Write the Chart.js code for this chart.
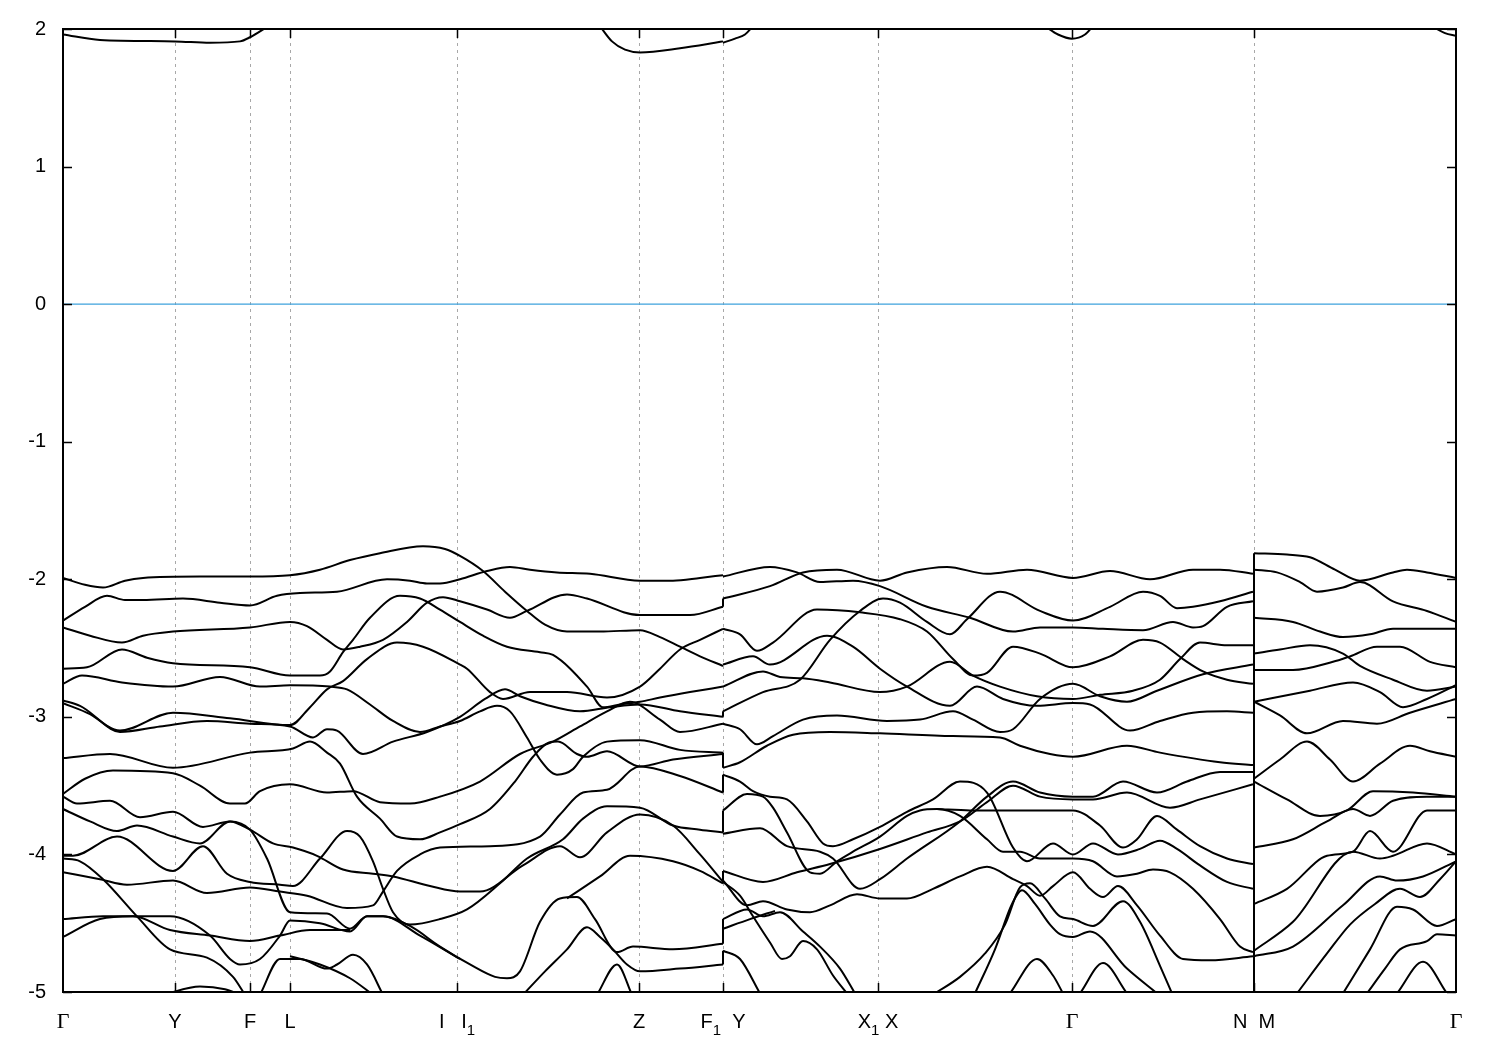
<!DOCTYPE html>
<html><head><meta charset="utf-8">
<script src="https://cdn.jsdelivr.net/npm/chart.js@4/dist/chart.umd.min.js"></script>
<style>html,body{margin:0;padding:0;background:#fff}canvas{display:block}</style>
</head><body>
<canvas id="c" width="1500" height="1050"></canvas>
<script>
// high-symmetry points (k-path distance) and their labels
const kTicks = [0, 1.12, 1.87, 2.27, 3.94, 5.76, 6.60, 8.15, 10.09, 11.91, 13.93];
const kLabels = ['Γ', 'Y', 'F', 'L', 'I   I_1', 'Z', 'F_1  Y', 'X_1 X', 'Γ', 'N  M', 'Γ'];
const eTicks = [2, 1, 0, -1, -2, -3, -4, -5];
const kMax = 13.93, eMin = -5, eMax = 2;

// ---- Γ-Y-F-L-I|I1-Z-F1 ----
const r1b1k=[0,.22,.40,.62,.80,1.37,1.87,2.27,2.57,2.87,3.17,3.60,3.82,3.97,4.20,4.42,4.64,4.82,5.04,5.37,5.77,5.97,6.17,6.37,6.60];
const r1b1e=[-1.99,-2.04,-2.06,-2.01,-1.99,-1.98,-1.98,-1.97,-1.93,-1.86,-1.81,-1.76,-1.78,-1.83,-1.94,-2.09,-2.23,-2.33,-2.38,-2.38,-2.37,-2.42,-2.49,-2.56,-2.63];
const r1b2k=[0,.22,.44,.62,.80,1.20,1.57,1.87,2.14,2.37,2.74,3.24,3.47,3.64,3.77,3.97,4.24,4.47,4.67,4.94,5.27,5.77,6.10,6.37,6.60];
const r1b2e=[-2.30,-2.20,-2.12,-2.15,-2.15,-2.14,-2.17,-2.19,-2.12,-2.10,-2.09,-2.00,-2.01,-2.03,-2.03,-2.00,-1.94,-1.91,-1.93,-1.95,-1.96,-2.01,-2.01,-1.99,-1.97];
const r1b3k=[0,.27,.59,.80,1.10,1.87,2.27,2.44,2.64,2.80,2.97,3.20,3.44,3.64,3.80,3.97,4.24,4.47,4.64,5.04,5.24,5.77,6.27,6.60];
const r1b3e=[-2.35,-2.41,-2.46,-2.41,-2.38,-2.35,-2.31,-2.34,-2.44,-2.51,-2.49,-2.44,-2.31,-2.17,-2.13,-2.16,-2.22,-2.28,-2.23,-2.11,-2.14,-2.26,-2.26,-2.20];
const r1b4k=[0,.24,.59,.84,1.10,1.87,2.27,2.57,2.67,2.80,2.90,3.07,3.37,3.57,3.77,3.97,4.20,4.44,4.77,4.90,5.24,5.40,5.57,5.77,5.97,6.27,6.60];
const r1b4e=[-2.65,-2.64,-2.51,-2.57,-2.61,-2.64,-2.70,-2.70,-2.67,-2.53,-2.44,-2.28,-2.12,-2.14,-2.22,-2.31,-2.41,-2.49,-2.53,-2.55,-2.78,-2.93,-2.91,-2.89,-2.86,-2.82,-2.78];
const r1b5k=[0,.19,.59,1.10,1.57,1.97,2.27,2.67,2.84,3.07,3.30,3.57,3.77,3.97,4.17,4.34,4.47,4.64,4.77,4.94,5.10,5.20,5.44,5.77,6.17,6.60];
const r1b5e=[-2.76,-2.70,-2.75,-2.78,-2.71,-2.78,-2.77,-2.78,-2.80,-2.91,-3.03,-3.11,-3.07,-3.03,-2.96,-2.92,-2.96,-3.15,-3.31,-3.42,-3.38,-3.29,-3.18,-3.17,-3.24,-3.26];
const r1b6k=[0,.17,.57,1.10,1.67,2.27,2.47,2.64,2.80,3.04,3.34,3.60,3.97,4.04,4.27,4.40,4.67,5.04,5.44,5.77,5.97,6.17,6.37,6.60];
const r1b6e=[-2.88,-2.92,-3.10,-2.97,-3.01,-3.06,-2.93,-2.80,-2.74,-2.58,-2.46,-2.49,-2.62,-2.65,-2.82,-2.87,-2.82,-2.82,-2.86,-2.78,-2.65,-2.51,-2.44,-2.36];
const r1b7k=[0,.27,.57,.97,1.44,1.87,2.27,2.50,2.64,2.74,3.00,3.30,3.64,3.97,4.22,4.42,4.57,4.82,5.17,5.47,5.77,6.17,6.60];
const r1b7e=[-2.90,-2.98,-3.11,-3.07,-3.03,-3.05,-3.07,-3.15,-3.09,-3.10,-3.27,-3.18,-3.11,-3.00,-2.87,-2.80,-2.85,-2.91,-2.96,-2.93,-2.91,-2.96,-3.00];
const r1b8k=[0,.47,1.10,1.87,2.30,2.47,2.64,2.77,2.94,3.17,3.34,3.57,3.77,3.97,4.27,4.52,4.70,4.85,4.95,5.14,5.24,5.44,5.77,6.10,6.60];
const r1b8e=[-3.30,-3.27,-3.37,-3.26,-3.23,-3.18,-3.26,-3.34,-3.58,-3.74,-3.87,-3.89,-3.84,-3.78,-3.67,-3.47,-3.29,-3.19,-3.18,-3.27,-3.29,-3.25,-3.36,-3.31,-3.27];
const r1b9k=[0,.22,.50,1.10,1.37,1.67,1.82,1.97,2.27,2.64,2.90,3.17,3.47,3.77,4.17,4.57,4.90,5.17,5.44,5.67,5.97,6.17,6.60];
const r1b9e=[-3.56,-3.45,-3.39,-3.41,-3.50,-3.63,-3.63,-3.54,-3.49,-3.55,-3.54,-3.62,-3.63,-3.58,-3.47,-3.27,-3.18,-3.07,-2.96,-2.89,-3.02,-3.11,-3.05];
const r1b10k=[0,.14,.47,.77,1.10,1.40,1.67,1.87,2.10,2.30,2.54,2.80,3.10,3.30,3.67,3.97,4.17,4.60,4.97,5.17,5.44,5.77,6.10,6.37,6.60];
const r1b10e=[-3.58,-3.63,-3.61,-3.73,-3.69,-3.80,-3.76,-3.82,-3.92,-3.95,-4.01,-4.11,-4.14,-4.16,-4.23,-4.27,-4.27,-4.08,-3.94,-4.02,-3.84,-3.71,-3.79,-4.00,-4.20];
const r1b11k=[0,.27,.54,.74,1.10,1.37,1.67,1.87,2.04,2.27,2.64,2.87,3.04,3.20,3.47,3.77,4.07,4.32,4.44,4.57,4.77,4.97,5.14,5.32,5.54,5.70,6.10,6.60];
const r1b11e=[-3.67,-3.76,-3.83,-3.79,-3.87,-3.92,-3.76,-3.82,-4.03,-4.42,-4.43,-4.54,-4.45,-4.45,-4.52,-4.67,-4.80,-4.89,-4.90,-4.85,-4.49,-4.32,-4.31,-4.47,-4.71,-4.67,-4.69,-4.65];
const r1b12k=[0,.10,.54,1.10,1.40,1.64,1.87,2.17,2.30,2.57,2.84,2.97,3.10,3.20,3.30,3.47,3.77,4.04,4.37,4.64,5.00,5.20,5.44,5.77,6.10,6.37,6.60];
const r1b12e=[-4.01,-4.01,-3.87,-4.12,-3.94,-4.14,-4.20,-4.22,-4.23,-4.03,-3.83,-3.87,-4.05,-4.25,-4.42,-4.51,-4.47,-4.40,-4.21,-4.03,-3.89,-3.74,-3.65,-3.66,-3.79,-3.82,-3.84];
const r1b13k=[0,.37,.64,1.10,1.44,1.87,2.17,2.44,2.84,3.10,3.20,3.34,3.57,3.77,4.27,4.77,4.97,5.20,5.44,5.77,6.17,6.60];
const r1b13e=[-4.13,-4.18,-4.22,-4.19,-4.28,-4.24,-4.27,-4.30,-4.39,-4.37,-4.27,-4.12,-4.00,-3.95,-3.94,-3.87,-3.71,-3.55,-3.53,-3.36,-3.43,-3.55];
const r1b14k=[0,.17,.40,.74,1.07,1.44,1.70,1.82];
const r1b14e=[-4.03,-4.05,-4.18,-4.45,-4.69,-4.75,-4.89,-5.02];
const r1b15k=[0,.40,1.07,1.47,1.67,1.77,1.97,2.17,2.27,2.57,2.87,3.04,3.20,3.57,3.97];
const r1b15e=[-4.47,-4.45,-4.45,-4.59,-4.76,-4.80,-4.76,-4.59,-4.48,-4.50,-4.56,-4.45,-4.45,-4.59,-4.76];
const r1b16k=[0,.37,.70,1.07,1.47,1.87,2.17,2.47,2.87];
const r1b16e=[-4.60,-4.47,-4.45,-4.55,-4.59,-4.63,-4.59,-4.55,-4.55];
const r1b17k=[1.97,2.17,2.37,2.64,2.74,2.90,3.04,3.20];
const r1b17e=[-5.02,-4.76,-4.76,-4.83,-4.80,-4.73,-4.80,-5.02];
const r1b18k=[2.27,2.57,2.87,3.10];
const r1b18e=[-4.74,-4.80,-4.90,-5.02];
const r1b19k=[1.00,1.37,1.62,1.77];
const r1b19e=[-5.02,-4.96,-4.98,-5.02];
const r1b20k=[4.60,4.82,5.04,5.24,5.37,5.50,5.64,5.77,6.17,6.60];
const r1b20e=[-5.02,-4.85,-4.69,-4.53,-4.60,-4.69,-4.80,-4.85,-4.83,-4.80];
const r1b21k=[5.34,5.54,5.69];
const r1b21e=[-5.02,-4.80,-5.02];
const r1b22k=[5.04,5.37,5.67,6.10,6.37,6.60];
const r1b22e=[-4.32,-4.16,-4.01,-4.05,-4.12,-4.21];

// ---- conduction band edges ----
const cb1k=[0,.37,1.12,1.47,1.77,1.87,2.05];
const cb1e=[1.96,1.92,1.91,1.90,1.91,1.94,2.02];
const cb2k=[5.37,5.49,5.62,5.77,6.17,6.52,6.60];
const cb2e=[2.02,1.91,1.85,1.83,1.86,1.90,1.91];
const cb3k=[6.60,6.72,6.82,6.90];
const cb3e=[1.90,1.93,1.96,2.02];
const cb4k=[9.82,9.95,10.09,10.22,10.30];
const cb4e=[2.02,1.96,1.93,1.96,2.02];
const cb5k=[13.69,13.82,13.93];
const cb5e=[2.02,1.97,1.95];

// ---- Y-X1|X-Γ-N ----
const r2b1k=[6.60,7.07,7.34,7.57,7.90,8.17,8.64,9.07,9.50,9.77,10.10,10.40,10.80,11.10,11.30,11.40,11.64,11.90];
const r2b1e=[-1.98,-1.91,-1.95,-2.02,-2.01,-2.05,-2.20,-2.28,-2.38,-2.35,-2.35,-2.36,-2.37,-2.31,-2.35,-2.34,-2.20,-2.16];
const r2b2k=[6.60,7.07,7.40,7.74,8.17,8.44,8.84,9.24,9.64,10.10,10.47,10.87,11.30,11.57,11.90];
const r2b2e=[-2.14,-2.05,-1.95,-1.93,-2.01,-1.95,-1.91,-1.96,-1.93,-1.99,-1.94,-2.00,-1.93,-1.93,-1.96];
const r2b3k=[6.60,6.77,6.94,7.10,7.54,7.97,8.37,8.64,8.90,9.10,9.24,9.50,9.77,10.10,10.47,10.80,10.97,11.20,11.40,11.64,11.90];
const r2b3e=[-2.36,-2.40,-2.52,-2.46,-2.22,-2.24,-2.29,-2.38,-2.58,-2.70,-2.68,-2.49,-2.54,-2.64,-2.56,-2.44,-2.46,-2.58,-2.67,-2.73,-2.76];
const r2b4k=[6.60,6.90,7.07,7.64,7.90,8.17,8.44,8.87,9.14,9.40,9.74,10.10,10.27,10.67,10.97,11.30,11.64,11.90];
const r2b4e=[-2.62,-2.56,-2.62,-2.41,-2.49,-2.65,-2.78,-2.92,-2.78,-2.87,-2.92,-2.90,-2.91,-3.10,-3.03,-2.97,-2.96,-2.97];
const r2b5k=[6.60,7.00,7.17,7.40,7.67,8.17,8.44,8.87,9.10,9.37,9.74,10.10,10.37,10.70,10.97,11.17,11.37,11.64,11.90];
const r2b5e=[-2.78,-2.67,-2.71,-2.72,-2.75,-2.82,-2.78,-2.60,-2.70,-2.78,-2.85,-2.87,-2.84,-2.81,-2.73,-2.58,-2.46,-2.48,-2.48];
const r2b6k=[6.60,7.00,7.37,7.67,7.97,8.20,8.37,8.64,8.87,9.04,9.37,9.77,10.10,10.47,10.80,10.97,11.14,11.30,11.57,11.90];
const r2b6e=[-2.96,-2.82,-2.73,-2.44,-2.23,-2.14,-2.17,-2.31,-2.40,-2.29,-2.09,-2.23,-2.30,-2.20,-2.09,-2.12,-2.21,-2.20,-2.16,-2.09];
const r2b7k=[6.60,6.77,6.94,7.10,7.40,7.74,8.24,8.57,8.90,9.10,9.37,9.50,9.77,10.10,10.37,10.64,10.94,11.40,11.90];
const r2b7e=[-3.05,-3.09,-3.20,-3.14,-3.02,-2.99,-3.03,-3.02,-2.96,-3.02,-3.11,-3.09,-2.87,-2.76,-2.85,-2.89,-2.81,-2.69,-2.62];
const r2b8k=[6.60,6.77,7.04,7.30,7.67,8.17,8.90,9.37,9.57,9.87,10.10,10.64,10.97,11.57,11.90];
const r2b8e=[-3.37,-3.33,-3.21,-3.13,-3.11,-3.12,-3.14,-3.15,-3.21,-3.27,-3.29,-3.21,-3.26,-3.33,-3.35];
const r2b9k=[6.60,6.77,6.90,7.07,7.24,7.44,7.60,7.70,7.90,8.17,8.44,8.70,8.97,9.24,9.50,9.64,9.90,10.10,10.30,10.55,10.77,10.97,11.14,11.37,11.64,11.90];
const r2b9e=[-3.42,-3.47,-3.54,-3.58,-3.60,-3.76,-3.92,-3.94,-3.89,-3.80,-3.69,-3.60,-3.47,-3.55,-3.95,-4.05,-3.92,-4.00,-3.92,-4.00,-3.96,-3.90,-3.96,-4.08,-4.20,-4.25];
const r2b10k=[6.60,6.84,7.00,7.10,7.24,7.47,7.57,7.74,7.90,8.17,8.44,8.57,8.74,8.97,9.24,9.40,9.57,9.77,10.10,10.30,10.54,10.74,10.90,11.07,11.30,11.57,11.77,11.90];
const r2b10e=[-3.68,-3.56,-3.58,-3.66,-3.84,-4.13,-4.14,-4.05,-3.98,-3.87,-3.72,-3.68,-3.67,-3.72,-3.89,-3.98,-3.98,-4.03,-4.03,-4.05,-4.16,-4.14,-4.11,-4.13,-4.25,-4.47,-4.67,-4.71];
const r2b11k=[6.60,6.97,7.24,7.57,7.70,7.97,8.17,8.44,8.97,9.24,9.50,9.77,10.10,10.30,10.60,10.94,11.24,11.57,11.90];
const r2b11e=[-3.85,-3.81,-3.94,-3.98,-4.03,-4.25,-4.18,-4.03,-3.76,-3.58,-3.47,-3.55,-3.58,-3.58,-3.47,-3.55,-3.47,-3.40,-3.40];
const r2b12k=[6.60,7.00,7.34,7.67,8.17,8.64,8.97,9.24,9.50,9.77,10.10,10.30,10.64,11.07,11.37,11.90];
const r2b12e=[-4.12,-4.20,-4.13,-4.07,-3.96,-3.84,-3.76,-3.62,-3.50,-3.58,-3.60,-3.60,-3.55,-3.66,-3.60,-3.49];
const r2b13k=[8.74,9.07,9.37,9.77,10.10,10.37,10.60,10.74,10.94,11.14,11.37,11.64,11.90];
const r2b13e=[-3.67,-3.68,-3.68,-3.68,-3.68,-3.79,-3.95,-3.89,-3.72,-3.82,-3.94,-4.03,-4.07];
const r2b14k=[6.60,6.84,7.00,7.24,7.47,7.67,7.94,8.17,8.44,8.70,8.97,9.24,9.50,9.64,9.77,9.90,10.10,10.27,10.40,10.55,10.74,10.97,11.20,11.47,11.90];
const r2b14e=[-4.19,-4.37,-4.34,-4.40,-4.42,-4.37,-4.29,-4.32,-4.32,-4.25,-4.16,-4.09,-4.18,-4.23,-4.30,-4.23,-4.13,-4.25,-4.31,-4.23,-4.37,-4.59,-4.76,-4.77,-4.74];
const r2b15k=[6.60,6.77,6.90,7.07,7.19,7.27,7.40,7.54,7.70,7.84];
const r2b15e=[-4.20,-4.30,-4.45,-4.64,-4.76,-4.74,-4.63,-4.69,-4.88,-5.01];
const r2b16k=[6.60,6.84,7.00,7.17,7.40,7.57,7.77,7.92];
const r2b16e=[-4.47,-4.40,-4.45,-4.42,-4.56,-4.67,-4.83,-5.01];
const r2b17k=[6.60,6.87,7.12];
const r2b17e=[-4.54,-4.47,-4.41];
const r2b18k=[6.60,6.77,6.97];
const r2b18e=[-4.70,-4.76,-5.01];
const r2b19k=[8.72,8.97,9.22,9.42,9.57,9.67,9.82,9.97,10.10,10.30,10.60,10.77,10.97,11.09];
const r2b19e=[-5.01,-4.89,-4.72,-4.51,-4.24,-4.21,-4.32,-4.45,-4.47,-4.52,-4.34,-4.49,-4.81,-5.01];
const r2b20k=[9.12,9.32,9.49,9.59,9.72,9.87,9.97,10.10,10.27,10.64,10.94];
const r2b20e=[-5.01,-4.69,-4.36,-4.26,-4.36,-4.51,-4.58,-4.60,-4.56,-4.83,-5.01];
const r2b21k=[9.47,9.74,9.90,10.00];
const r2b21e=[-5.01,-4.76,-4.88,-5.01];
const r2b22k=[10.17,10.40,10.64];
const r2b22e=[-5.01,-4.79,-5.01];

// ---- M-Γ ----
const r3b1k=[11.91,12.24,12.47,12.72,12.97,13.30,13.44,13.64,13.93];
const r3b1e=[-1.81,-1.82,-1.84,-1.93,-2.01,-1.95,-1.93,-1.95,-1.99];
const r3b2k=[11.91,12.14,12.37,12.54,12.80,12.97,13.30,13.64,13.93];
const r3b2e=[-1.93,-1.95,-2.02,-2.09,-2.06,-2.02,-2.16,-2.23,-2.31];
const r3b3k=[11.91,12.30,12.57,12.80,13.07,13.30,13.64,13.93];
const r3b3e=[-2.28,-2.31,-2.38,-2.42,-2.40,-2.36,-2.36,-2.36];
const r3b4k=[11.91,12.17,12.47,12.80,12.97,13.30,13.64,13.93];
const r3b4e=[-2.54,-2.51,-2.48,-2.54,-2.63,-2.73,-2.81,-2.78];
const r3b5k=[11.91,12.30,12.70,12.87,13.14,13.37,13.67,13.93];
const r3b5e=[-2.66,-2.66,-2.60,-2.56,-2.49,-2.49,-2.60,-2.64];
const r3b6k=[11.91,12.47,12.90,13.17,13.40,13.64,13.93];
const r3b6e=[-2.89,-2.81,-2.75,-2.82,-2.93,-2.87,-2.77];
const r3b7k=[11.91,12.17,12.44,12.80,13.14,13.47,13.93];
const r3b7e=[-2.89,-2.99,-3.12,-3.03,-3.05,-2.97,-2.87];
const r3b8k=[11.91,12.17,12.44,12.67,12.90,13.17,13.47,13.67,13.93];
const r3b8e=[-3.45,-3.31,-3.18,-3.31,-3.47,-3.34,-3.21,-3.25,-3.29];
const r3b9k=[11.91,12.24,12.57,12.84,13.10,13.50,13.93];
const r3b9e=[-3.47,-3.60,-3.72,-3.68,-3.54,-3.55,-3.58];
const r3b10k=[11.91,12.30,12.64,12.90,13.07,13.30,13.64,13.93];
const r3b10e=[-3.95,-3.89,-3.76,-3.67,-3.72,-3.61,-3.58,-3.58];
const r3b11k=[11.91,12.24,12.64,12.90,13.07,13.30,13.64,13.93];
const r3b11e=[-4.36,-4.25,-4.01,-3.98,-3.83,-3.98,-3.68,-3.68];
const r3b12k=[11.91,12.30,12.90,13.17,13.30,13.64,13.93];
const r3b12e=[-4.70,-4.49,-3.98,-4.03,-4.01,-3.92,-4.00];
const r3b13k=[11.91,12.30,12.80,13.17,13.34,13.60,13.93];
const r3b13e=[-4.74,-4.67,-4.37,-4.16,-4.19,-4.16,-4.05];
const r3b14k=[12.34,12.64,12.87,13.12,13.37,13.57,13.77,13.93];
const r3b14e=[-5.01,-4.72,-4.51,-4.36,-4.25,-4.31,-4.18,-4.05];
const r3b15k=[12.80,13.07,13.34,13.50,13.74,13.93];
const r3b15e=[-5.01,-4.69,-4.38,-4.40,-4.52,-4.47];
const r3b16k=[13.04,13.22,13.37,13.64,13.74,13.93];
const r3b16e=[-5.01,-4.83,-4.69,-4.63,-4.58,-4.59];
const r3b17k=[13.34,13.60,13.84];
const r3b17e=[-5.01,-4.78,-5.01];

// discontinuities of the path (energy pairs joined at the same k)
const jumpF1k = 6.60;
const jumpF1 = [[-2.14,-2.20],[-2.96,-3.00],[-3.26,-3.37],[-3.42,-3.55],[-3.68,-3.84],[-4.12,-4.21],[-4.47,-4.65],[-4.70,-4.80]];
const jumpNMk = 11.91;
const jumpNM = [[-1.81,-5.00]];

const bandList = [
 [r1b1k,r1b1e],[r1b2k,r1b2e],[r1b3k,r1b3e],[r1b4k,r1b4e],[r1b5k,r1b5e],[r1b6k,r1b6e],[r1b7k,r1b7e],[r1b8k,r1b8e],
 [r1b9k,r1b9e],[r1b10k,r1b10e],[r1b11k,r1b11e],[r1b12k,r1b12e],[r1b13k,r1b13e],[r1b14k,r1b14e],[r1b15k,r1b15e],
 [r1b16k,r1b16e],[r1b17k,r1b17e],[r1b18k,r1b18e],[r1b19k,r1b19e],[r1b20k,r1b20e],[r1b21k,r1b21e],[r1b22k,r1b22e],
 [cb1k,cb1e],[cb2k,cb2e],[cb3k,cb3e],[cb4k,cb4e],[cb5k,cb5e],
 [r2b1k,r2b1e],[r2b2k,r2b2e],[r2b3k,r2b3e],[r2b4k,r2b4e],[r2b5k,r2b5e],[r2b6k,r2b6e],[r2b7k,r2b7e],[r2b8k,r2b8e],
 [r2b9k,r2b9e],[r2b10k,r2b10e],[r2b11k,r2b11e],[r2b12k,r2b12e],[r2b13k,r2b13e],[r2b14k,r2b14e],[r2b15k,r2b15e],
 [r2b16k,r2b16e],[r2b17k,r2b17e],[r2b18k,r2b18e],[r2b19k,r2b19e],[r2b20k,r2b20e],[r2b21k,r2b21e],[r2b22k,r2b22e],
 [r3b1k,r3b1e],[r3b2k,r3b2e],[r3b3k,r3b3e],[r3b4k,r3b4e],[r3b5k,r3b5e],[r3b6k,r3b6e],[r3b7k,r3b7e],[r3b8k,r3b8e],
 [r3b9k,r3b9e],[r3b10k,r3b10e],[r3b11k,r3b11e],[r3b12k,r3b12e],[r3b13k,r3b13e],[r3b14k,r3b14e],[r3b15k,r3b15e],
 [r3b16k,r3b16e],[r3b17k,r3b17e]
];

const LINE_W = 2;
const datasets = [];
datasets.push({
  data: [{x:0,y:0},{x:kMax,y:0}], borderColor:'#3ea2dc', borderWidth:1.4,
  pointRadius:0, fill:false, clip:0, order:10
});
bandList.forEach(([ks, es]) => {
  datasets.push({
    data: ks.map((k,i)=>({x:k, y:es[i]})),
    borderColor:'#000', borderWidth:LINE_W, pointRadius:0, fill:false,
    cubicInterpolationMode:'monotone', clip:0, order:1
  });
});
function jumpData(k, pairs){
  const out=[];
  pairs.forEach(([a,b])=>{ out.push({x:k,y:a},{x:k,y:b},{x:k,y:null}); });
  return out;
}
datasets.push({data:jumpData(jumpF1k,jumpF1), borderColor:'#000', borderWidth:LINE_W, pointRadius:0, spanGaps:false, tension:0, clip:0, order:1});
datasets.push({data:jumpData(jumpNMk,jumpNM), borderColor:'#000', borderWidth:LINE_W, pointRadius:0, spanGaps:false, tension:0, clip:0, order:1});

const FONT = '"Liberation Sans", Arial, sans-serif';
const decor = {
  id:'decor',
  beforeDatasetsDraw(chart){
    const {ctx, chartArea:a, scales:{x}} = chart;
    ctx.save();
    ctx.strokeStyle='#a8a8a8'; ctx.lineWidth=1; ctx.setLineDash([3,4]);
    kTicks.forEach(k=>{
      if(k<=0||k>=kMax) return;
      const px=Math.round(x.getPixelForValue(k))+0.5;
      ctx.beginPath(); ctx.moveTo(px,a.top); ctx.lineTo(px,a.bottom); ctx.stroke();
    });
    ctx.restore();
  },
  afterDraw(chart){
    const {ctx, chartArea:a, scales:{x,y}} = chart;
    ctx.save();
    ctx.strokeStyle='#000'; ctx.lineWidth=2; ctx.setLineDash([]);
    ctx.strokeRect(a.left, a.top, a.right-a.left, a.bottom-a.top);
    ctx.lineWidth=1.5;
    eTicks.forEach(v=>{
      const py=Math.round(y.getPixelForValue(v))+0.5;
      ctx.beginPath(); ctx.moveTo(a.left,py); ctx.lineTo(a.left+9,py);
      ctx.moveTo(a.right,py); ctx.lineTo(a.right-9,py); ctx.stroke();
    });
    kTicks.forEach(k=>{
      if(k<=0||k>=kMax) return;
      const px=Math.round(x.getPixelForValue(k))+0.5;
      ctx.beginPath(); ctx.moveTo(px,a.bottom); ctx.lineTo(px,a.bottom-9);
      ctx.moveTo(px,a.top); ctx.lineTo(px,a.top+9); ctx.stroke();
    });
    // tick labels with subscripts
    ctx.fillStyle='#000'; ctx.textBaseline='alphabetic'; ctx.textAlign='left';
    kLabels.forEach((lab,i)=>{
      const parts=[];
      for(let j=0;j<lab.length;j++){
        if(lab[j]==='_'){ parts.push({t:lab[j+1], sub:true}); j++; }
        else parts.push({t:lab[j], sub:false});
      }
      const fontOf=p=> p.sub ? '15px '+FONT : (p.t==='Γ' ? '22px "Liberation Serif", serif' : '20px '+FONT);
      let w=0; parts.forEach(p=>{ ctx.font=fontOf(p); p.w=ctx.measureText(p.t).width; w+=p.w; });
      let cx=x.getPixelForValue(kTicks[i]) - w/2;
      parts.forEach(p=>{
        ctx.font=fontOf(p);
        ctx.fillText(p.t, cx, a.bottom + (p.sub ? 43 : 36));
        cx+=p.w;
      });
    });
    ctx.restore();
  }
};

new Chart(document.getElementById('c'), {
  type:'line',
  data:{datasets},
  options:{
    responsive:false, animation:false, devicePixelRatio:1,
    layout:{padding:{top:28,right:44,bottom:0,left:0}},
    plugins:{legend:{display:false}, tooltip:{enabled:false}},
    scales:{
      x:{type:'linear', min:0, max:kMax, grid:{display:false}, border:{display:false},
         ticks:{display:false}, afterFit(s){ s.height=58; }},
      y:{type:'linear', min:eMin, max:eMax,
         ticks:{stepSize:1, color:'#000', padding:17, font:{family:FONT, size:20}},
         grid:{display:false, drawTicks:false}, border:{display:false},
         afterFit(s){ s.width=63; }}
    }
  },
  plugins:[decor]
});
</script>
</body></html>
